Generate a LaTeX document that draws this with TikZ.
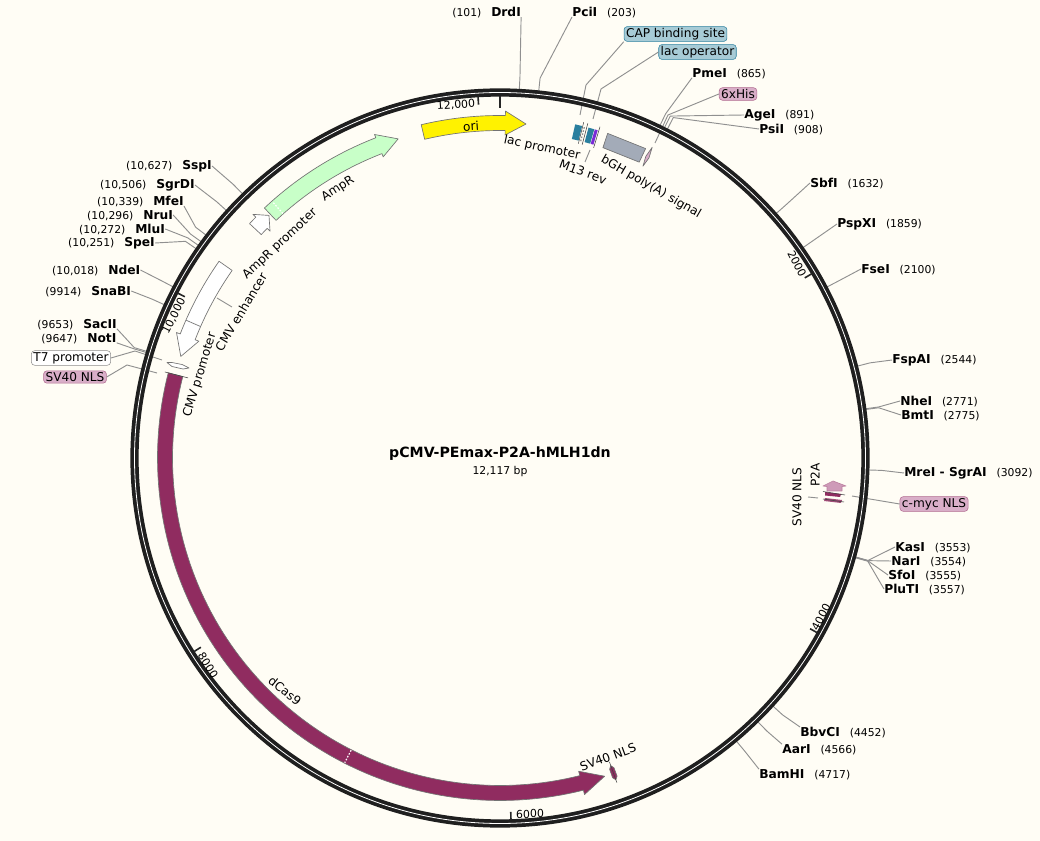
\documentclass[tikz,border=0pt]{standalone}
\usepackage{fontspec}
\setmainfont{DejaVu Sans}
\usetikzlibrary{positioning}
\definecolor{paper}{HTML}{FFFDF5}
\definecolor{leadgray}{HTML}{909090}
\definecolor{ampgreen}{HTML}{C8FFC8}
\definecolor{cas}{HTML}{902C60}
\definecolor{pinkbox}{HTML}{D9AEC8}
\definecolor{bluebox}{HTML}{A7CBD6}
\definecolor{tealbar}{HTML}{2A7F9E}
\definecolor{lacviolet}{HTML}{7A2BD6}
\definecolor{polya}{HTML}{A3ABB8}
\tikzset{
ctr/.style={shift={(500,458)}},
sitename/.style={font=\fontsize{9.2}{11}\selectfont\bfseries,inner sep=0pt},
sitenum/.style={font=\fontsize{8.1}{10}\selectfont,inner sep=1pt},
tag/.style={font=\fontsize{9.1}{11}\selectfont,inner sep=1pt},
ticklab/.style={font=\fontsize{8.2}{10}\selectfont,inner sep=0pt},
boxtag/.style={tag,draw,rounded corners=2.5pt,inner xsep=1.5pt,inner ysep=1.2pt},
pinktag/.style={boxtag,fill=pinkbox,draw=cas!70},
bluetag/.style={boxtag,fill=bluebox,draw=tealbar},
leader/.style={draw=leadgray,line width=.7pt},
hair/.style={draw=black!75,line width=.4pt},
feat/.style={draw=black!55,line width=.5pt,line join=round},
cut/.style={white,line width=.9pt,dash pattern=on 1.2pt off 1.2pt}
}
\begin{document}
\begin{tikzpicture}[x=.75pt,y=-.75pt]
\useasboundingbox[fill=paper](0,0)rectangle(1040,841);
%enzymes on the right
\foreach \nm/\bp/\x/\y/\anc in {
PciI/203/572/12/south west,PmeI/865/692/73/south west,AgeI/891/744/115/west,PsiI/908/759/129/west,
SbfI/1632/810/183/west,PspXI/1859/837/224/west,FseI/2100/861/269/west,FspAI/2544/892/360/west,
NheI/2771/900/401/west,BmtI/2775/901/415/west,MreI - SgrAI/3092/904/473/west,
KasI/3553/895/547/west,NarI/3554/891/561/west,SfoI/3555/888/575/west,PluTI/3557/884/589/west,
BbvCI/4452/800/732/north west,AarI/4566/782/749/north west,BamHI/4717/759/774/north west}{
\pgfmathsetmacro\a{\bp/12117*360-90}
\node[sitename,anchor=west](\nm)at(\x,\y){\nm};
\node[sitenum,base right=6pt of \nm](\nm-num){(\bp)};
\coordinate(\nm-out)at([ctr]\a:382);
\coordinate(\nm-in)at([ctr]\a:366);
\draw[leader](\nm.\anc)--(\nm-out)--(\nm-in);
}
%enzymes on the left
\foreach \nm/\bp/\num/\x/\y/\anc in {
DrdI/101/101/491/12/south east,SspI/10627/{10,627}/182/166/east,SgrDI/10506/{10,506}/156/185/east,
MfeI/10339/{10,339}/153/201/south east,NruI/10296/{10,296}/143/215/east,MluI/10272/{10,272}/135/229/east,
SpeI/10251/{10,251}/124/243/east,NdeI/10018/{10,018}/108/270/east,SnaBI/9914/9914/91/291/east,
SacII/9653/9653/83/324/south east,NotI/9647/9647/87/338/south east}{
\pgfmathsetmacro\a{\bp/12117*360-90}
\node[sitename,anchor=west](\nm)at(\x,\y){\nm};
\node[sitenum,base left=6pt of \nm](\nm-num){(\num)};
\coordinate(\nm-out)at([ctr]\a:382);
\coordinate(\nm-in)at([ctr]\a:366);
\draw[leader](\nm.\anc)--(\nm-out)--(\nm-in);
}
%labelled features
\node[bluetag](cap)at(675.5,34){CAP binding site};
\node[bluetag](lacop)at(697.5,52){lac operator};
\node[pinktag](his)at(738,94){6xHis};
\node[pinktag](myc)at(934,504){c-myc NLS};
\node[boxtag,draw=black!45,fill=white](t7)at(71,358){T7 promoter};
\node[pinktag](nlsa)at(75,377){SV40 NLS};
\coordinate(capend)at(580,115);
\coordinate(lacend)at(593,119);
\coordinate(hisend)at(655,143);
\coordinate(mycend)at(852,496);
\coordinate(t7end)at(162,360);
\coordinate(nlsend)at(157,373);
\draw[leader](cap.south west)--(586,85)--(capend);
\draw[leader](lacop.west)--(601,89)--(lacend);
\draw[leader](his.west)--(668,115)--(hisend);
\draw[leader](myc.west)--(mycend);
\draw[leader](808,497)--(818,498);%c-myc stub
\draw[leader](t7.east)--(135,351)--(t7end);
\draw[leader](nlsa.east)--(127,365)--(nlsend);
%ring
\draw[line width=6.2pt,black!88](500,458)circle[radius=365.5];
\draw[line width=.6pt,white](500,458)circle[radius=365.5];
%ticks
\foreach \bp in {2000,4000,6000,8000,10000,12000}{
\pgfmathsetmacro\a{\bp/12117*360-90}
\draw[line width=1.2pt,black!85,ctr](\a:362)--(\a:354);
}
\draw[line width=2.2pt,black!85,ctr](-90:362)--(-90:350);
\node[ticklab,rotate=-63](t2k)at(797,264){2000};
\node[ticklab,rotate=62](t4k)at(821,617){4000};
\node[ticklab,rotate=1](t6k)at(530,814){6000};
\node[ticklab,rotate=-58](t8k)at(208,665){8000};
\node[ticklab,rotate=63](t10k)at(174,316){10,000};
\node[ticklab,rotate=4](t12k)at(456,105){12,000};
%arc arrows
\foreach \a/\b/\t/\w/\h/\c in {
-103.3/-89.1/-85.55/7.5/12/yellow,
-133.3/-111.2/-107.7/8.5/12/ampgreen,
-136.9/-135.4/-133.6/8/12/white,
-145/-158.8/-162.35/8/12/white,
-165.6/-284.1/-288.2/7.5/12/cas}{
\draw[feat,fill=\c,ctr]plot[domain=\a:\b,samples=90](\x:{335+\w})--(\b:{335+\h})--(\t:335)--(\b:{335-\h})--plot[domain=\b:\a,samples=90](\x:{335-\w})--cycle;
}
\draw[hair,ctr](-165.6:322)--(-165.6:346);%dCas9 end
\draw[cut,ctr](-131.6:327)--(-131.6:343);
\draw[feat,ctr](-156.3:327)--(-156.3:343);%enhancer and promoter
\draw[cut,ctr](-164.3:328)--(-164.3:342);
\draw[cut,ctr](-243:328)--(-243:342);
%small features
\fill[tealbar,ctr](-77.3:327)--(-77.3:342)--(-76.1:342)--(-76.1:327)--cycle;
\fill[tealbar,ctr](-75:327)--(-75:342)--(-74:342)--(-74:327)--cycle;
\fill[lacviolet,ctr](-73.9:327)--(-73.9:342)--(-73.4:342)--(-73.4:327)--cycle;
\draw[cut,draw=black!45,ctr](-75.7:327)--(-75.7:342);
\foreach \a in {-76,-75.3,-73.2}{\draw[hair,ctr](\a:324)--(\a:346);}
\draw[feat,fill=polya,ctr](-71.65:327)--(-71.65:342)--(-64.8:342)--(-64.8:327)--cycle;
\draw[feat,fill=pinkbox,ctr](-63.9:325)--(-63.6:335)--(-63.9:346)--(-64.2:335)--cycle;
\draw[feat,fill=cas,ctr](70.2:327)--(69.8:330)--(69.8:339)--(70.2:342)--(70.6:339)--(70.6:330)--cycle;
\draw[hair,ctr](70.2:323)--(70.2:345);
\draw[feat,fill=white](167,362.5)--(172,362.5)--(182,364.5)--(189,368)--(183,369)--(172,366.5)--cycle;
%P2A and NLS bars
\draw[feat,draw=cas!60,fill=pinkbox!85!cas](833,481)--(846,486)--(842,486.5)--(842,491)--(827,491)--(827,486.5)--(823,486)--cycle;
\fill[cas](825,492)--(841,494)--(840,497)--(825,495.5)--cycle;
\fill[cas!85](825,498)--(842,500)--(841,503)--(824,501)--cycle;
\draw[hair](823,491.5)--(845,495);
\draw[hair](823,499)--(844,502);
%feature names
\node[tag,rotate=4](ori)at(471,126){ori};
\node[tag,rotate=-12](lacpro)at(542,148){lac promoter};
\node[tag,rotate=-20](m13)at(583,172){M13 rev};
\node[tag,rotate=-30](bgh)at(651,187){bGH poly(A) signal};
\node[tag,rotate=33](ampr)at(338,189){AmpR};
\node[tag,rotate=43](amppro)at(280,244){AmpR promoter};
\node[tag,rotate=59](cmvenh)at(241,312){CMV enhancer};
\node[tag,rotate=73](cmvpro)at(200,375){CMV promoter};
\node[tag,rotate=-38](cas9)at(285,691){dCas9};
\node[tag,rotate=20](nlsb)at(608,757){SV40 NLS};
\node[tag,rotate=90](nlsc)at(797,497){SV40 NLS};
\node[tag,rotate=90](p2a)at(815,475){P2A};
\coordinate(m13a)at(590,150);
\coordinate(m13b)at(585,162);
\coordinate(enha)at(232,307);
\coordinate(enhb)at(217,298);
\draw[leader](m13a)--(m13b);
\draw[leader](enha)--(enhb);
%name of the plasmid
\node[font=\fontsize{10.6}{12}\selectfont\bfseries,inner sep=0pt](title)at(500,454){pCMV-PEmax-P2A-hMLH1dn};
\node[sitenum,below=2.5pt of title](bp){12,117 bp};
\end{tikzpicture}
\end{document}
